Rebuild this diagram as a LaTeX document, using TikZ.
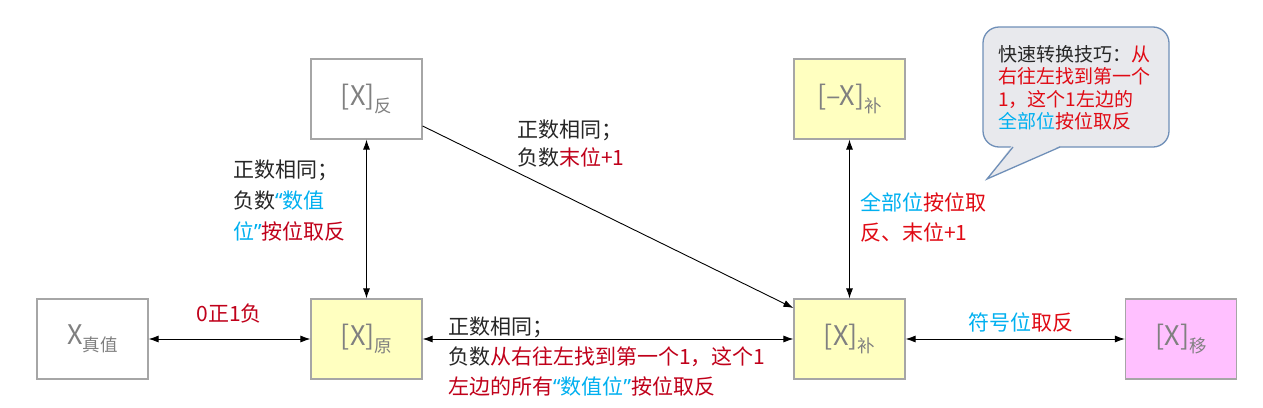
\documentclass[tikz,border=0pt]{standalone}
\usepackage{fontspec}
\setmainfont{Noto Sans CJK SC}
\newfontfamily\qfont{Noto Sans}
\usetikzlibrary{arrows.meta}
\definecolor{boxline}{HTML}{A6A6A6}
\definecolor{boxtext}{HTML}{808080}
\definecolor{yel}{HTML}{FFFFC0}
\definecolor{pink}{HTML}{FFC0FF}
\definecolor{rd}{HTML}{C0001A}
\definecolor{brd}{HTML}{E00A14}
\definecolor{bl}{HTML}{00B0F0}
\definecolor{tx}{HTML}{262626}
\definecolor{callfill}{HTML}{E8E9ED}
\definecolor{callline}{HTML}{6F8FB8}
\newcommand{\bigtx}[1]{{\fontsize{27}{27}\selectfont #1}}
\newcommand{\subtx}[1]{\raisebox{-7pt}{\fontsize{17.5}{17.5}\selectfont #1}}
\newcommand{\myopq}{{\qfont\color{bl}“}}
\newcommand{\myclq}{{\qfont\color{bl}”}}
\tikzset{
  bx/.style={draw=boxline, line width=1.2pt, minimum width=111pt, minimum height=80pt, inner sep=0pt, text=boxtext},
  conn/.style={line width=0.9pt, draw=black, {Latex[length=10pt,width=7pt]}-{Latex[length=10pt,width=7pt]}},
  conn1/.style={line width=0.9pt, draw=black, -{Latex[length=10pt,width=7pt]}},
  lab/.style={inner sep=0pt, text=tx, align=left, font=\fontsize{21}{30}\selectfont},
  clab/.style={inner sep=0pt, text=tx, align=left, font=\fontsize{19}{22.5}\selectfont}
}
\begin{document}
\begin{tikzpicture}[x=1pt,y=-1pt]
\useasboundingbox (0,0) rectangle (1263,407);
\fill[white] (0,0) rectangle (1263,407);
% boxes
\node[bx, fill=white] (zhen) at (92.5,339) {\bigtx{X}\subtx{真值}};
\node[bx, fill=yel] (yuan) at (366.5,339) {\bigtx{[X]}\subtx{原}};
\node[bx, fill=white] (fan) at (366.5,99) {\bigtx{[X]}\subtx{反}};
\node[bx, fill=yel] (negbu) at (849.5,99) {\bigtx{[–X]}\subtx{补}};
\node[bx, fill=yel] (bu) at (849.5,339) {\bigtx{[X]}\subtx{补}};
\node[bx, fill=pink] (yi) at (1181,339) {\bigtx{[X]}\subtx{移}};
% connectors
\draw[conn] (zhen) -- (yuan);
\draw[conn] (fan) -- (yuan);
\draw[conn] (yuan) -- (bu);
\draw[conn1] ([yshift=-27pt]fan.east) -- ([yshift=31pt]bu.west);
\draw[conn] (negbu) -- (bu);
\draw[conn] (bu) -- (yi);
% labels
\node[lab, text=rd, anchor=center] (l1) at (229,314) {0正1负};
\node[lab, anchor=north west, font=\fontsize{21}{31}\selectfont] (l2) at (233,160) {正数相同；\\负数\myopq\textcolor{bl}{数值}\\\textcolor{bl}{位}\myclq\textcolor{rd}{按位取反}};
\node[lab, anchor=north west, font=\fontsize{21}{28}\selectfont] (l3) at (517,120) {正数相同；\\负数\textcolor{rd}{末位+1}};
\node[lab, anchor=north west] (l4) at (448,317) {正数相同；\\负数\textcolor{rd}{从右往左找到第一个1，这个1}\\\textcolor{rd}{左边的所有}\myopq\textcolor{bl}{数值位}\myclq\textcolor{rd}{按位取反}};
\node[lab, anchor=north west] (l5) at (860,192) {\textcolor{bl}{全部位}\textcolor{brd}{按位取}\\\textcolor{brd}{反、末位+1}};
\node[lab, anchor=center] (l6) at (1021,322) {\textcolor{bl}{符号位}\textcolor{brd}{取反}};
% callout
\node[draw=callline, fill=callfill, line width=1.3pt, rounded corners=16pt, minimum width=186pt, minimum height=120pt, inner sep=0pt] (call) at (1076,87) {};
\fill[callfill] (1012,145.5) -- (987,179) -- (1061,145.5) -- cycle;
\draw[callline, line width=1.3pt, line join=miter] (1013,147) -- (987,179) -- (1060,147);
\node[clab, anchor=north west] (l7) at (998,45) {快速转换技巧：\textcolor{brd}{从}\\\textcolor{brd}{右往左找到第一个}\\\textcolor{brd}{1，这个1左边的}\\\textcolor{bl}{全部位}\textcolor{brd}{按位取反}};
\end{tikzpicture}
\end{document}
